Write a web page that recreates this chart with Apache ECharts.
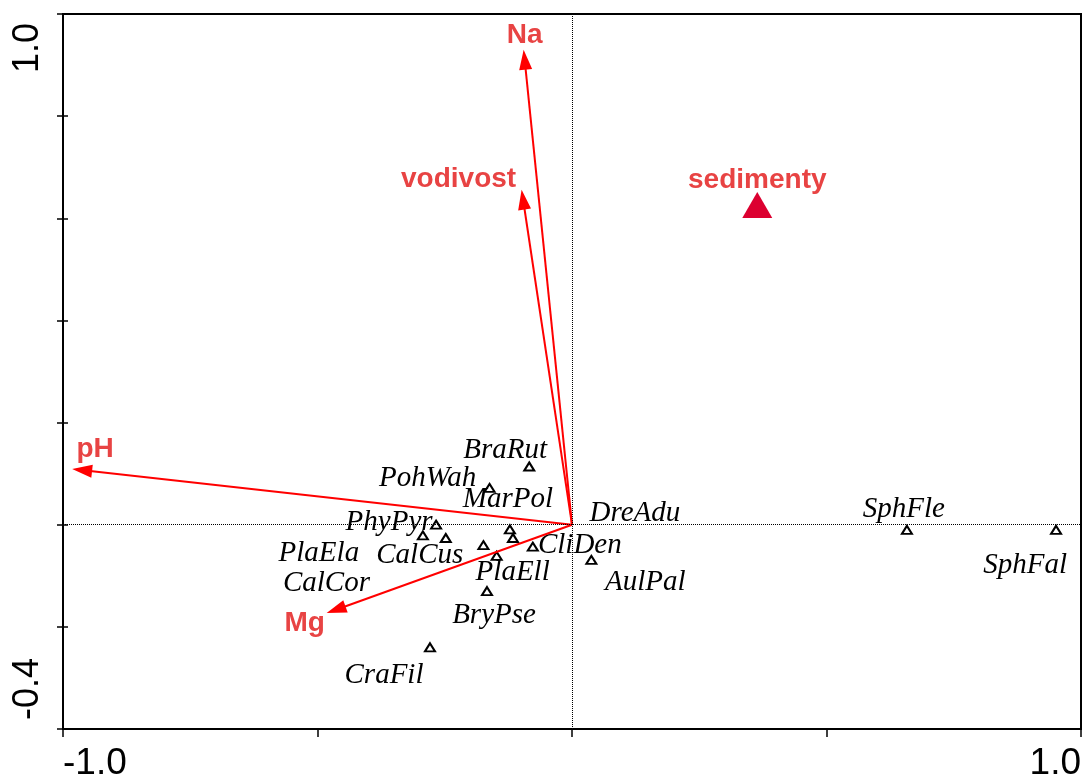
<!DOCTYPE html>
<html>
<head>
<meta charset="utf-8">
<script src="https://cdn.jsdelivr.net/npm/echarts@6/dist/echarts.min.js"></script>
<style>
  html, body { margin: 0; padding: 0; background: #fff; }
  #chart { width: 1084px; height: 778px; }
</style>
</head>
<body>
<div id="chart"></div>
<script>
// ---------------- DATA ----------------
const speciesNames = ['BraRut', 'PohWah', 'MarPol', 'PhyPyr', 'PlaEla', 'CalCus', 'CalCor', 'DreAdu', 'CliDen', 'PlaEll', 'BryPse', 'CraFil', 'AulPal', 'SphFle', 'SphFal'];
const speciesX = [-0.084, -0.162, -0.122, -0.267, -0.293, -0.248, -0.174, -0.116, -0.077, -0.148, -0.167, -0.279, 0.038, 0.658, 0.951];
const speciesY = [0.114, 0.072, -0.009, 0.000, -0.021, -0.026, -0.040, -0.026, -0.043, -0.061, -0.130, -0.240, -0.069, -0.010, -0.010];

const envNames = ['Na', 'vodivost', 'pH', 'Mg'];
const envX = [-0.095, -0.099, -0.982, -0.482];
const envY = [0.930, 0.656, 0.109, -0.173];

const nominalNames = ['sedimenty'];
const nominalX = [0.364];
const nominalY = [0.626];

const xTickValues = [-1, 1];
const xTickLabels = ['-1.0', '1.0'];
const yTickValues = [-0.4, 1.0];
const yTickLabels = ['-0.4', '1.0'];

// ---------------- STYLE / LAYOUT ----------------
const speciesLabelOffsets = {
  BraRut: [-24, -16], PohWah: [-62, -10], MarPol: [-2, -30], PhyPyr: [-47, -2],
  PlaEla: [-104, 18], CalCus: [-26, 17], CalCor: [-157, 38], DreAdu: [122, -25],
  CliDen: [47, -1], PlaEll: [16, 17], BryPse: [7, 24], CraFil: [-46, 28],
  AulPal: [54, 22], SphFle: [-3, -20], SphFal: [-31, 36]
};
const envLabelOffsets = { Na: [1, -14], vodivost: [-63, -10], pH: [23, -20], Mg: [-22, 10] };
const nominalLabelOffsets = { sedimenty: [0, -25] };

const RED_TEXT = '#e84343';
const ARROW_RED = '#ff0000';

function tickFormatter(values, labels) {
  return function (v) {
    for (let i = 0; i < values.length; i++) {
      if (Math.abs(v - values[i]) < 1e-9) return labels[i];
    }
    return '';
  };
}

const chart = echarts.init(document.getElementById('chart'), null, { renderer: 'canvas' });

const speciesData = speciesNames.map((n, i) => ({
  name: n,
  value: [speciesX[i], speciesY[i]],
  label: { offset: speciesLabelOffsets[n] }
}));

const nominalData = nominalNames.map((n, i) => ({
  name: n,
  value: [nominalX[i], nominalY[i]],
  label: { offset: nominalLabelOffsets[n] }
}));

const envData = envNames.map((n, i) => [envX[i], envY[i]]);

const option = {
  animation: false,
  backgroundColor: '#fff',
  grid: {
    left: 63, right: 3, top: 14, bottom: 49,
    containLabel: false, outerBoundsMode: 'none',
    show: true, borderColor: '#000', borderWidth: 2, backgroundColor: 'transparent'
  },
  xAxis: {
    type: 'value', min: -1, max: 1, interval: 0.5, position: 'bottom',
    axisLine: { show: true, onZero: false, lineStyle: { color: '#000', width: 2 } },
    axisTick: { show: true, inside: false, length: 8, lineStyle: { color: '#000', width: 1.5 } },
    axisLabel: {
      show: true, margin: 16,
      formatter: tickFormatter(xTickValues, xTickLabels),
      alignMinLabel: 'left', alignMaxLabel: 'right',
      showMinLabel: true, showMaxLabel: true,
      fontFamily: 'Liberation Sans', fontSize: 37, color: '#000'
    },
    splitLine: { show: false }
  },
  yAxis: [{
    type: 'value', min: -0.4, max: 1.0, interval: 0.2, position: 'left',
    axisLine: { show: true, onZero: false, lineStyle: { color: '#000', width: 2 } },
    axisTick: { show: true, inside: false, length: 6, lineStyle: { color: '#000', width: 1.5 } },
    axisLabel: {
      show: true, margin: 17, rotate: 90,
      padding: [0, 9, 0, 9],
      formatter: tickFormatter(yTickValues, yTickLabels),
      alignMinLabel: 'left', alignMaxLabel: 'right',
      showMinLabel: true, showMaxLabel: true,
      fontFamily: 'Liberation Sans', fontSize: 36, color: '#000'
    },
    splitLine: { show: false }
  }, {
    type: 'value', min: -0.4, max: 1.0, interval: 0.2, position: 'left', offset: 0,
    axisLine: { show: false, onZero: false },
    axisTick: { show: true, inside: true, length: 5, lineStyle: { color: '#000', width: 1.5 } },
    axisLabel: { show: false },
    splitLine: { show: false }
  }],
  series: [
    {
      type: 'scatter',
      name: 'species',
      z: 3,
      data: speciesData,
      symbol: 'triangle',
      symbolSize: [10, 8],
      itemStyle: { color: '#fff', borderColor: '#000', borderWidth: 2, opacity: 1 },
      label: {
        show: true, position: 'inside', formatter: '{b}',
        fontFamily: 'Liberation Serif', fontStyle: 'italic', fontSize: 29, color: '#000'
      },
      emphasis: { disabled: true },
      markLine: {
        silent: true, symbol: ['none', 'none'], animation: false,
        label: { show: false },
        lineStyle: { color: '#000', type: 'dotted', width: 1 },
        emphasis: { disabled: true },
        data: [{ xAxis: 0 }, { yAxis: 0 }]
      }
    },
    {
      type: 'custom',
      name: 'env',
      z: 4,
      data: envData,
      encode: { x: 0, y: 1 },
      renderItem: function (params, api) {
        const idx = params.dataIndex;
        const name = envNames[idx];
        const p0 = api.coord([0, 0]);
        const p1 = api.coord([api.value(0), api.value(1)]);
        const dx = p1[0] - p0[0], dy = p1[1] - p0[1];
        const len = Math.hypot(dx, dy);
        const ux = dx / len, uy = dy / len;
        const headL = 20, headW = 6.5;
        const bx = p1[0] - ux * headL, by = p1[1] - uy * headL;
        const px = -uy, py = ux;
        const off = envLabelOffsets[name];
        return {
          type: 'group',
          children: [
            { type: 'line', shape: { x1: p0[0], y1: p0[1], x2: bx + ux * 2, y2: by + uy * 2 },
              style: { stroke: ARROW_RED, lineWidth: 2 } },
            { type: 'polygon', shape: { points: [p1, [bx + px * headW, by + py * headW], [bx - px * headW, by - py * headW]] },
              style: { fill: ARROW_RED } },
            { type: 'text', x: p1[0] + off[0], y: p1[1] + off[1],
              style: { text: name, fill: RED_TEXT, fontFamily: 'Liberation Sans', fontWeight: 'bold', fontSize: 28,
                       align: 'center', verticalAlign: 'middle' } }
          ]
        };
      }
    },
    {
      type: 'scatter',
      name: 'nominal',
      z: 4,
      data: nominalData,
      symbol: 'triangle',
      symbolSize: [30, 26],
      itemStyle: { color: '#dc0030', opacity: 1 },
      label: {
        show: true, position: 'inside', formatter: '{b}',
        fontFamily: 'Liberation Sans', fontWeight: 'bold', fontSize: 28, color: RED_TEXT
      },
      emphasis: { disabled: true }
    }
  ]
};

chart.setOption(option);
</script>
</body>
</html>
